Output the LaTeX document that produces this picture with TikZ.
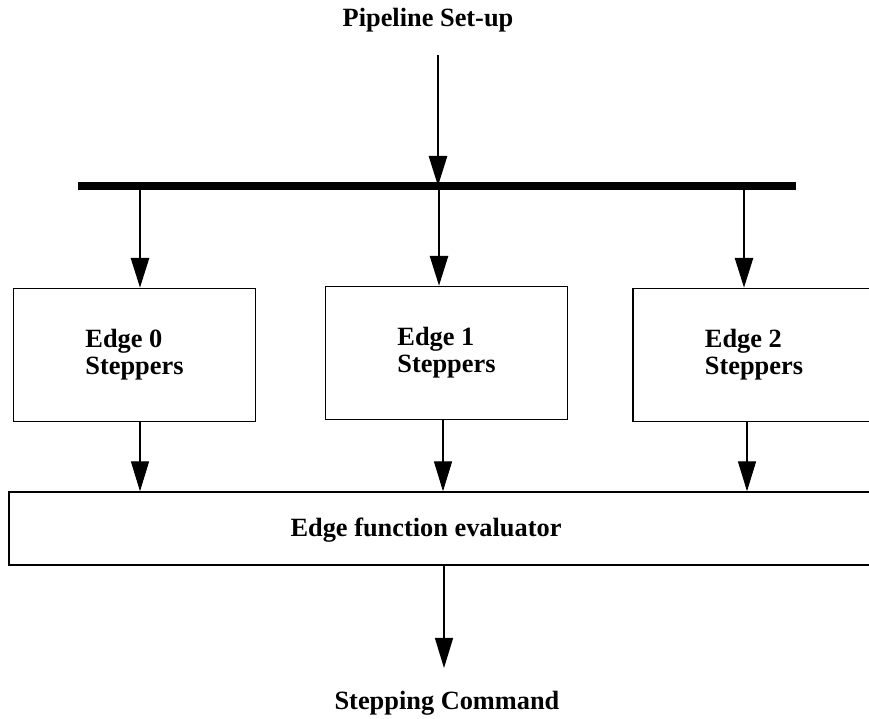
\documentclass[tikz,border=0pt]{standalone}
\usepackage{fontspec}
\setmainfont{Liberation Serif}
\usetikzlibrary{arrows.meta}

\begin{document}
\begin{tikzpicture}[
    font=\bfseries\fontsize{15}{15.4}\selectfont,
    stepbox/.style={draw,line width=0.8pt,minimum width=4.84cm,minimum height=2.66cm,align=left},
    busarrow/.style={line width=1.6pt,-{Triangle[length=0.6cm,width=0.36cm]}},
    thinarrow/.style={line width=0.8pt,-{Triangle[length=0.6cm,width=0.36cm]}}]
            \clip (0,0) rectangle (17.38,14.38);
            % set-up input and the bus
            \node (setup) at (8.56,13.98) {Pipeline Set-up};
            \coordinate (busl) at (1.56,10.66);
            \coordinate (busr) at (15.92,10.66);
            \draw[line width=4.5pt] (busl)--(busr);
            \coordinate (top) at (8.76,13.28);
            \draw[busarrow] (top)--(top |- busl);
            % the three stepper boxes
            \node[stepbox] (edge0) at (2.69,7.28) {Edge 0\\Steppers};
            \node[stepbox] (edge1) at (8.93,7.32) {Edge 1\\Steppers};
            \node[stepbox] (edge2) at (15.08,7.28) {Edge 2\\Steppers};
            \coordinate (tap0) at (2.80,10.66);
            \coordinate (tap1) at (8.78,10.66);
            \coordinate (tap2) at (14.88,10.66);
            \draw[busarrow] (tap0)--(tap0 |- edge0.north);
            \draw[busarrow] (tap1)--(tap1 |- edge1.north);
            \draw[busarrow] (tap2)--(tap2 |- edge2.north);
            % evaluator
            \node[draw,line width=0.8pt,minimum width=17.6cm,minimum height=1.46cm] (eval) at (8.98,3.81) {};
            \node (evaltext) at (8.52,3.78) {Edge function evaluator};
            \draw[thinarrow] (edge0.south -| tap0)--(tap0 |- eval.north);
            \draw[thinarrow] ([xshift=0.08cm]edge1.south -| tap1)--([xshift=0.08cm]tap1 |- eval.north);
            \draw[thinarrow] ([xshift=0.06cm]edge2.south -| tap2)--([xshift=0.06cm]tap2 |- eval.north);
            % output
            \node (cmd) at (8.94,0.32) {Stepping Command};
            \draw[thinarrow] (eval.south -| 8.88,0)--(8.88,1.02);
        \end{tikzpicture}
\end{document}
